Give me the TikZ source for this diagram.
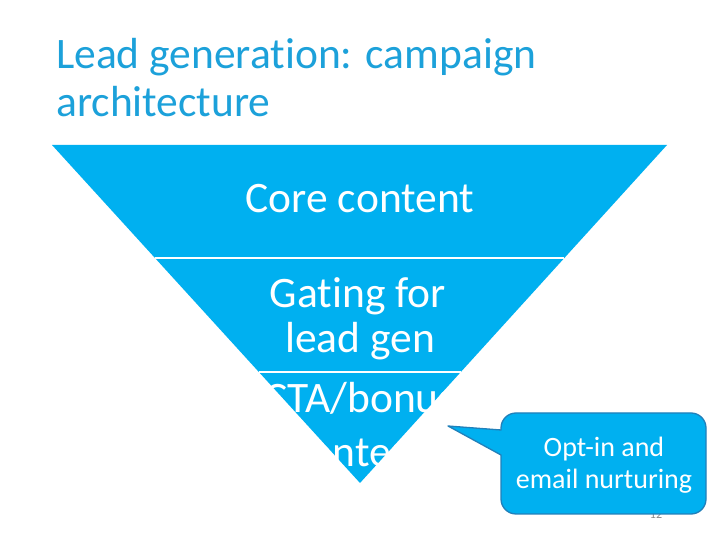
\documentclass[tikz,border=0pt]{standalone}
\usepackage{fontspec}
\setmainfont{Carlito}[RawFeature={-liga}]
\usetikzlibrary{calc}
\definecolor{funnel}{RGB}{0,176,240}
\definecolor{titleblue}{RGB}{28,161,218}
\definecolor{calloutedge}{RGB}{33,128,186}
\definecolor{pagegray}{RGB}{137,137,137}
\tikzset{
  titletext/.style={anchor=base west,inner sep=0pt,text=titleblue,font=\fontsize{43.5}{44}\selectfont},
  tiertext/.style={anchor=base,inner sep=0pt,text=white,font=\fontsize{43.5}{44}\selectfont},
  callouttext/.style={anchor=base,inner sep=0pt,text=white,font=\fontsize{28}{32}\selectfont},
  sepline/.style={draw=white,line width=2pt},
  calloutshape/.style={fill=funnel,draw=calloutedge,line width=1.3pt,line join=round},
}
\begin{document}
\begin{tikzpicture}[x=1pt,y=1pt]
\useasboundingbox (0,0) rectangle (720,540);
\fill[white] (0,0) rectangle (720,540);
% title
\node[titletext] (title1) at (56,471) {Lead generation: campaign};
\node[titletext] (title2) at (56,423) {architecture};
% funnel
\coordinate (tl) at (52,395);
\coordinate (tr) at (667,395);
\coordinate (apex) at (360,57);
\fill[funnel] (tl) -- (tr) -- (apex) -- cycle;
\coordinate (s1l) at ($(tl)!0.334!(apex)$);
\coordinate (s1r) at ($(tr)!0.334!(apex)$);
\coordinate (s2l) at ($(tl)!0.6716!(apex)$);
\coordinate (s2r) at ($(tr)!0.6716!(apex)$);
\draw[sepline] (s1l) -- (s1r);
\draw[sepline] (s2l) -- (s2r);
% tier labels
\node[tiertext] (core) at (360,327) {Core content};
\node[tiertext] (gate1) at (358,232) {Gating for};
\node[tiertext] (gate2) at (360,187) {lead gen};
\node[tiertext] (cta1) at (360,127) {CTA/bonus};
\node[tiertext] (cta2) at (360,73) {content};
% page number
\node[anchor=base,inner sep=0pt,text=pagegray,font=\fontsize{12}{14}\selectfont] (pagenum) at (656,21) {12};
% callout
\draw[calloutshape] (448,114) -- (501,110) -- (501,112)
  arc[start angle=180,end angle=90,radius=15] -- (691,127)
  arc[start angle=90,end angle=0,radius=15] -- (706,41)
  arc[start angle=0,end angle=-90,radius=15] -- (516,26)
  arc[start angle=270,end angle=180,radius=15] -- (501,85) -- cycle;
\node[callouttext] (opt1) at (604,83) {Opt-in and};
\node[callouttext] (opt2) at (604,51) {email nurturing};
\end{tikzpicture}
\end{document}
